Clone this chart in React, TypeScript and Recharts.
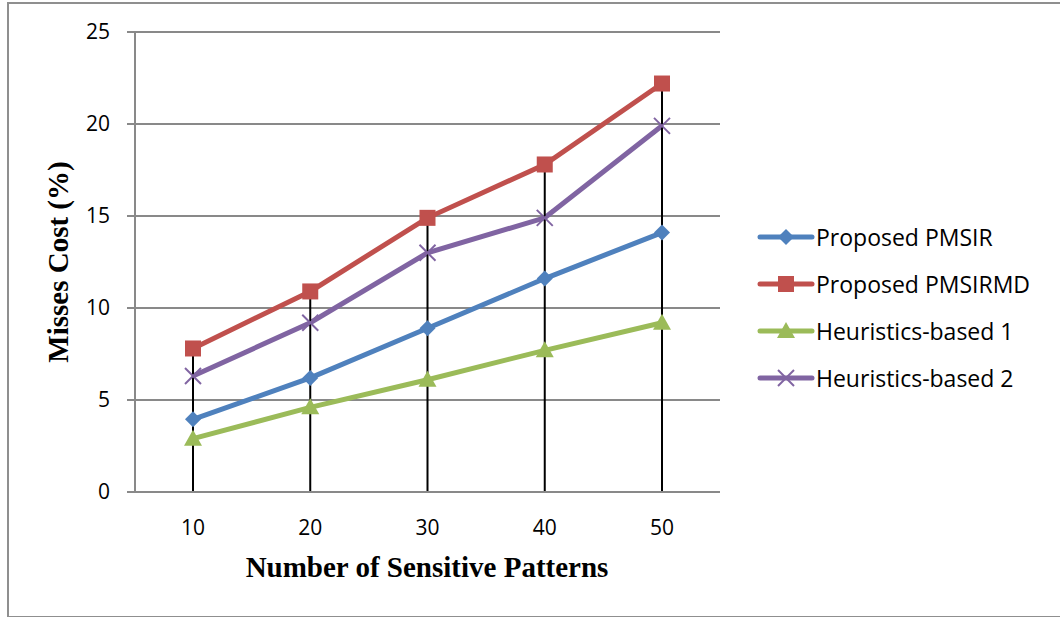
import { LineChart, Line, XAxis, YAxis, CartesianGrid, ReferenceLine } from "recharts";

const patterns = ["10", "20", "30", "40", "50"];
const pmsir = [3.95, 6.2, 8.9, 11.6, 14.1];
const pmsirmd = [7.8, 10.9, 14.9, 17.8, 22.2];
const heuristics1 = [2.9, 4.6, 6.1, 7.7, 9.2];
const heuristics2 = [6.3, 9.2, 13.0, 14.9, 19.9];
const yTicks = [0, 5, 10, 15, 20, 25];

const BLUE = "#4F81BD";
const RED = "#C0504D";
const GREEN = "#9BBB59";
const PURPLE = "#8064A2";
const GRID = "#898989";
const SANS = "'Open Sans', sans-serif";
const SERIF = "'Liberation Serif', 'Times New Roman', serif";

const data = patterns.map((p, i) => ({
  p,
  pmsir: pmsir[i],
  pmsirmd: pmsirmd[i],
  h1: heuristics1[i],
  h2: heuristics2[i],
}));

// highest value at each category, used for the drop lines
const peaks = data.map(d => Math.max(d.pmsir, d.pmsirmd, d.h1, d.h2));

type Shape = "diamond" | "square" | "triangle" | "cross";

function marker(shape: Shape, color: string, cx: number, cy: number, key?: string) {
  switch (shape) {
    case "diamond":
      return <polygon key={key} points={`${cx},${cy - 8} ${cx + 8},${cy} ${cx},${cy + 8} ${cx - 8},${cy}`} fill={color} />;
    case "square":
      return <rect key={key} x={cx - 8} y={cy - 8} width={16} height={16} fill={color} />;
    case "triangle":
      return <polygon key={key} points={`${cx},${cy - 9} ${cx + 9},${cy + 7} ${cx - 9},${cy + 7}`} fill={color} />;
    default:
      return (
        <g key={key}>
          <line x1={cx - 8} y1={cy - 8} x2={cx + 8} y2={cy + 8} stroke={color} strokeWidth={2} />
          <line x1={cx - 8} y1={cy + 8} x2={cx + 8} y2={cy - 8} stroke={color} strokeWidth={2} />
        </g>
      );
  }
}

const series: { key: string; name: string; color: string; shape: Shape }[] = [
  { key: "pmsir", name: "Proposed PMSIR", color: BLUE, shape: "diamond" },
  { key: "pmsirmd", name: "Proposed PMSIRMD", color: RED, shape: "square" },
  { key: "h1", name: "Heuristics-based 1", color: GREEN, shape: "triangle" },
  { key: "h2", name: "Heuristics-based 2", color: PURPLE, shape: "cross" },
];

function LegendBox() {
  return (
    <div style={{ position: "absolute", left: 757, top: 213, fontFamily: SANS, fontSize: 23, color: "#000" }}>
      {series.map(s => (
        <div key={s.key} style={{ display: "flex", alignItems: "center", height: 47 }}>
          <svg width={58} height={20}>
            <line x1={3} y1={10} x2={55} y2={10} stroke={s.color} strokeWidth={5} strokeLinecap="round" />
            {marker(s.shape, s.color, 29, 10)}
          </svg>
          <span style={{ marginLeft: 1 }}>{s.name}</span>
        </div>
      ))}
    </div>
  );
}

export default function App() {
  return (
    <div style={{ position: "absolute", left: 0, top: 0, width: 1060, height: 617, background: "#fff", overflow: "hidden" }}>
      <div
        style={{
          position: "absolute",
          left: 7,
          top: 2,
          width: 1080,
          height: 612,
          border: "2px solid #8f8f8f",
        }}
      />
      <LineChart
        width={1060}
        height={617}
        data={data}
        margin={{ top: 32, right: 340, bottom: 65, left: 75 }}
        style={{ position: "absolute", left: 0, top: 0 }}
      >
        <CartesianGrid vertical={false} stroke={GRID} strokeWidth={2} />
        <XAxis
          dataKey="p"
          height={60}
          padding={{ left: 58, right: 58 }}
          axisLine={{ stroke: GRID, strokeWidth: 2 }}
          tickLine={false}
          tickSize={0}
          tickMargin={28}
          tick={{ fill: "#000", fontSize: 21, fontFamily: SANS }}
        />
        <YAxis
          width={60}
          domain={[0, 25]}
          ticks={yTicks}
          axisLine={{ stroke: GRID, strokeWidth: 2 }}
          tickLine={{ stroke: GRID, strokeWidth: 2 }}
          tickSize={8}
          tickMargin={17}
          tick={{ fill: "#000", fontSize: 21, fontFamily: SANS }}
        />
        {series.map(s => (
          <Line
            key={s.key}
            dataKey={s.key}
            name={s.name}
            stroke={s.color}
            strokeWidth={5}
            isAnimationActive={false}
            dot={(props: any) => marker(s.shape, s.color, props.cx, props.cy, `${s.key}-${props.index}`)}
            activeDot={false}
          />
        ))}
        {patterns.map((p, i) => (
          <ReferenceLine
            key={`drop-${p}`}
            segment={[
              { x: p, y: 0 },
              { x: p, y: peaks[i] },
            ]}
            stroke="#000"
            strokeWidth={2}
          />
        ))}
      </LineChart>
      <LegendBox />
      <div
        style={{
          position: "absolute",
          left: 127,
          width: 600,
          top: 551,
          textAlign: "center",
          fontFamily: SERIF,
          fontWeight: "bold",
          fontSize: 29,
        }}
      >
        Number of Sensitive Patterns
      </div>
      <div
        style={{
          position: "absolute",
          left: 58,
          top: 262,
          transform: "translate(-50%, -50%) rotate(-90deg)",
          whiteSpace: "nowrap",
          fontFamily: SERIF,
          fontWeight: "bold",
          fontSize: 29,
        }}
      >
        Misses Cost (%)
      </div>
    </div>
  );
}
